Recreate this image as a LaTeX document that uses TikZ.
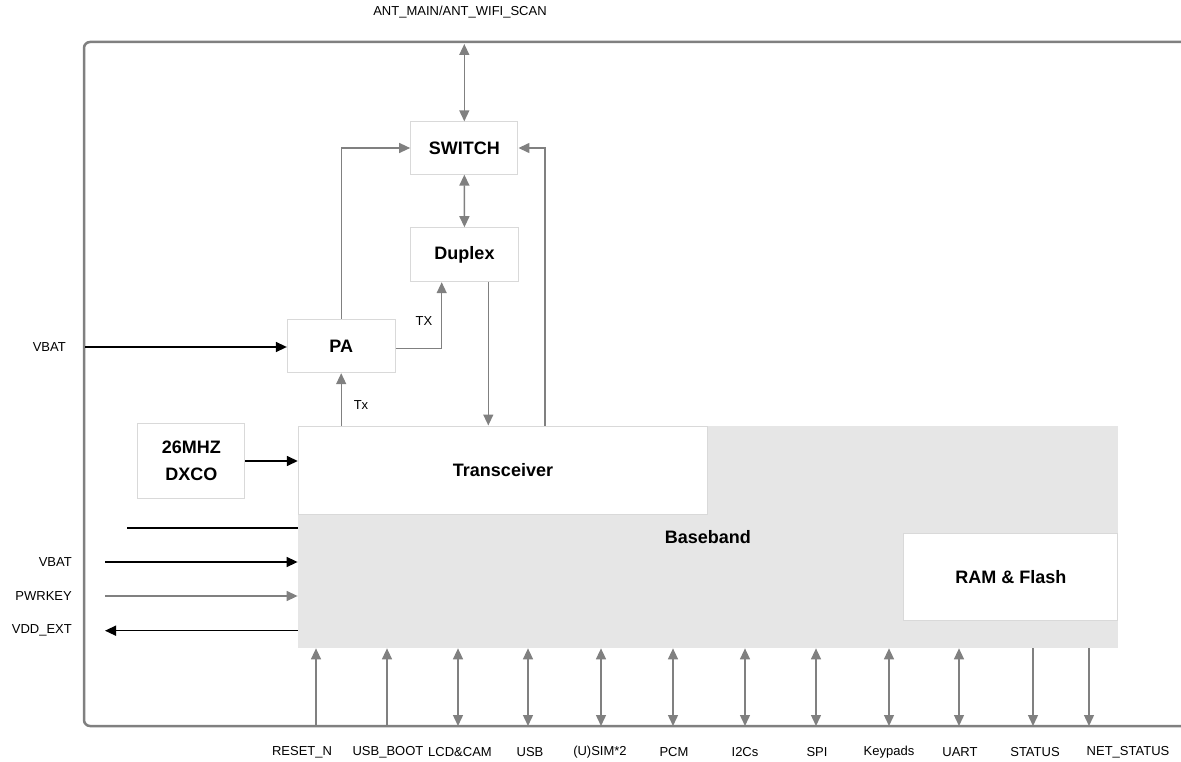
\documentclass[tikz,border=0pt]{standalone}
\usepackage{fontspec}
\setmainfont{Liberation Sans}
\usepackage{tikz}
\usetikzlibrary{arrows.meta}
\definecolor{linegray}{HTML}{808080}
\definecolor{boxgray}{HTML}{D9D9D9}
\definecolor{bbgray}{HTML}{E6E6E6}
\tikzset{
    blk/.style={draw=boxgray, line width=1pt, fill=white, inner sep=0pt, align=center,
        font=\fontsize{18}{27}\selectfont\bfseries},
    lbl/.style={font=\fontsize{13}{15}\selectfont, inner sep=0pt},
    gline/.style={draw=linegray, line width=1.4pt},
    kline/.style={draw=black, line width=1.5pt},
    sigin/.style={gline,->},
    sigout/.style={gline,<-},
    sigio/.style={gline,<->}
}

\begin{document}
\begin{tikzpicture}[x=1pt,y=-1pt,>={Triangle[length=11pt,width=10pt]}]
            \useasboundingbox (0,0) rectangle (1181,762);

            \draw[draw=linegray, line width=2.5pt, rounded corners=6pt] (1181,42) -- (84,42) -- (84,726) -- (1181,726);
            \node[lbl] (antlbl) at (460,12) {ANT\_MAIN/ANT\_WIFI\_SCAN};

            \node[blk, draw=none, fill=bbgray, minimum width=819.4, minimum height=221.7] (baseband) at (707.8,537) {Baseband};
            \node[blk, minimum width=409.4, minimum height=88] (trx) at (503,470) {Transceiver};
            \node[blk, minimum width=213.7, minimum height=86.7] (ram) at (1010.8,577.3) {RAM \& Flash};
            \node[blk, minimum width=107.3, minimum height=52.3] (switch) at (464.3,148) {SWITCH};
            \node[blk, minimum width=107.6, minimum height=54] (duplex) at (464.5,254.7) {Duplex};
            \node[blk, minimum width=107.7, minimum height=53.4] (pa) at (341.2,346) {PA};
            \node[blk, minimum width=107.3, minimum height=74.6] (dxco) at (191.3,461) {26MHZ\\DXCO};

            \coordinate (ant) at (464.3,44);
            \draw[sigio] (ant) -- (switch);
            \draw[sigio] (switch) -- (duplex);
            \draw[sigin] (pa.north) |- (switch.west);
            \draw[sigin] ([yshift=-2.7pt]pa.east) -| ([xshift=-22.8pt]duplex.south);
            \node[lbl] (txlbl) at (424,321) {TX};
            \draw[sigin] ([xshift=23.8pt]duplex.south) -- ([xshift=23.8pt]duplex.south |- trx.north);
            \draw[sigin] ([xshift=42pt]trx.north) |- (switch.east);
            \draw[sigin] (pa.south |- trx.north) -- (pa.south);
            \node[lbl] (txlbl2) at (361,405) {Tx};
            \draw[kline,->] (dxco.east) -- (dxco.east -| trx.west);

            \coordinate (vbatpa) at (85,347);
            \draw[kline,->] (vbatpa) -- (vbatpa -| pa.west);
            \node[lbl, anchor=east] (vbatlbl1) at (66,347) {VBAT};

            \coordinate (nc) at (127,528);
            \draw[kline] (nc) -- (nc -| baseband.west);
            \coordinate (vbat) at (105,562);
            \draw[kline,->] (vbat) -- (vbat -| baseband.west);
            \node[lbl, anchor=east] (vbatlbl2) at (72,562) {VBAT};
            \coordinate (pwrkey) at (105,596);
            \draw[sigin] (pwrkey) -- (pwrkey -| baseband.west);
            \node[lbl, anchor=east] (pwrkeylbl) at (72,596) {PWRKEY};
            \coordinate (vddext) at (105,630.7);
            \draw[kline,<-] (vddext) -- (vddext -| baseband.west);
            \node[lbl, anchor=east] (vddextlbl) at (72,630.7) {VDD\_EXT};

            \foreach \x/\lx/\kind/\txt [count=\i] in {316/302/sigin/RESET\_N, 387/388/sigin/USB\_BOOT,
                    458/460/sigio/LCD\&CAM, 528/530/sigio/USB, 601/600/sigio/{(U)SIM*2}, 673/674/sigio/PCM,
                    745/745/sigio/I2Cs, 816/817/sigio/SPI, 889/889/sigio/Keypads, 959/960/sigio/UART,
                    1033/1035/sigout/STATUS, 1089/1128/sigout/NET\_STATUS}{
                \coordinate (pin\i) at (\x,726);
                \draw[\kind] (pin\i) -- (pin\i |- baseband.south);
                \node[lbl] (pinlbl\i) at (\lx,752) {\txt};
            }
        \end{tikzpicture}
\end{document}
